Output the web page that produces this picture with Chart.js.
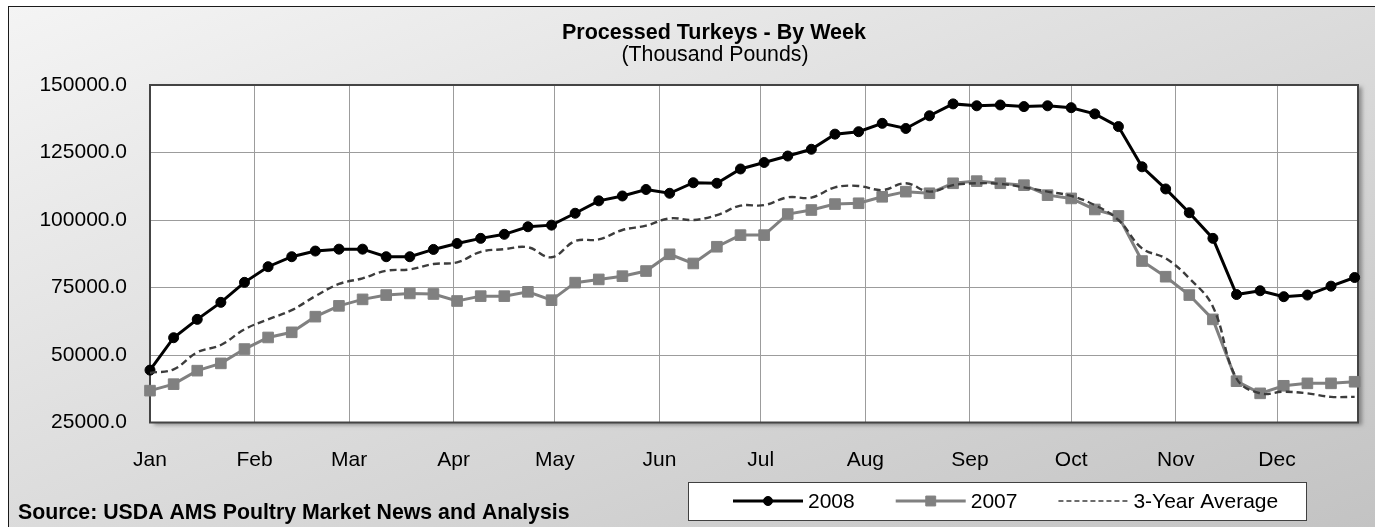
<!DOCTYPE html>
<html>
<head>
<meta charset="utf-8">
<title>Processed Turkeys - By Week</title>
<script src="https://cdn.jsdelivr.net/npm/chart.js"></script>
<style>
  html, body { margin: 0; padding: 0; background: #fff; }
  #turkeyChart { display: block; }
</style>
</head>
<body>
<canvas id="turkeyChart" width="1375" height="527"></canvas>
<script>
// month gridlines sit on the first day of each month (day of year)
const monthStartDays = [0, 31, 59, 90, 120, 151, 181, 212, 243, 273, 304, 334];
const monthLabels = ['Jan', 'Feb', 'Mar', 'Apr', 'May', 'Jun', 'Jul', 'Aug', 'Sep', 'Oct', 'Nov', 'Dec'];
const yTickValues = [25000, 50000, 75000, 100000, 125000, 150000];

// weekly processed turkeys, thousand pounds
const turkeys2008 = [
  44400, 56400, 63200, 69500, 76900, 82700, 86400, 88500, 89200, 89200,
  86400, 86400, 89100, 91300, 93200, 94700, 97500, 98100, 102500, 107100,
  108900, 111300, 109900, 113800, 113600, 118900, 121300, 123700, 126200, 131800,
  132700, 135800, 133900, 138600, 143000, 142300, 142600, 142000, 142300, 141600,
  139300, 134600, 119700, 111500, 102700, 93200, 72400, 73800, 71600, 72200,
  75500, 78700
];
const turkeys2007 = [
  36800, 39200, 44200, 46900, 52200, 56500, 58400, 64200, 68200, 70600,
  72200, 72800, 72600, 70000, 71800, 71800, 73400, 70300, 76800, 78000,
  79200, 81100, 87300, 83900, 90100, 94400, 94400, 102200, 103700, 105900,
  106200, 108600, 110500, 109900, 113600, 114400, 113600, 112900, 109200, 108000,
  103900, 101500, 84800, 79000, 72200, 63200, 40300, 35800, 38600, 39500,
  39500, 40100
];
const threeYearAvg = [
  43400, 44700, 51000, 53700, 59500, 63200, 66600, 71800, 76300, 78400,
  81200, 81700, 83700, 84300, 88200, 89200, 89900, 86200, 92200, 92800,
  96300, 97900, 100600, 100000, 101800, 105300, 105500, 108400, 108300, 112100,
  112600, 111100, 113600, 110500, 112900, 113600, 113400, 112100, 110500, 108900,
  105500, 100000, 89500, 85800, 78400, 67900, 41300, 35800, 36400, 35800,
  34500, 34500
];

const chartTitle = 'Processed Turkeys - By Week';
const chartSubtitle = '(Thousand Pounds)';
const sourceNote = 'Source: USDA AMS Poultry Market News and Analysis';

// one point per week, x is day of year
const weekDays = turkeys2008.map((_, i) => i * 7);
const toPoints = (values) => values.map((v, i) => ({ x: weekDays[i], y: v }));

const FONT = "'Liberation Sans', Arial, sans-serif";
Chart.defaults.font.family = FONT;
Chart.defaults.font.size = 21;
Chart.defaults.color = '#000';

// legend sample styles (Excel draws the dashed sample thinner)
const legendStyles = [
  { lineWidth: 3, dash: [], radius: 4.5 },
  { lineWidth: 3, dash: [], radius: 7 },
  { lineWidth: 1.5, dash: [5, 3], radius: 0 }
];

const framePlugin = {
  id: 'frame',
  beforeDraw(chart) {
    const { ctx, width, height, chartArea: a } = chart;
    ctx.save();
    ctx.fillStyle = '#fff';
    ctx.fillRect(0, 0, width, height);

    // diagonal gradient: top-left light, bottom-right dark
    const x0 = 8, y0 = 6, w = width - x0, h = height - y0;
    const k = 2 / (1 / (w * w) + 1 / (h * h));
    const g = ctx.createLinearGradient(x0, y0, x0 + k / w, y0 + k / h);
    g.addColorStop(0, '#f4f4f4');
    g.addColorStop(1, '#c3c3c3');
    ctx.fillStyle = g;
    ctx.fillRect(x0, y0, w, h);
    ctx.strokeStyle = '#1a1a1a';
    ctx.lineWidth = 1;
    ctx.strokeRect(x0 + 0.5, y0 + 0.5, w + 10, h + 10);

    // plot area with a soft shadow on the right
    ctx.shadowColor = 'rgba(0,0,0,0.35)';
    ctx.shadowBlur = 4;
    ctx.shadowOffsetX = 4;
    ctx.shadowOffsetY = 2;
    ctx.fillStyle = '#fff';
    ctx.fillRect(a.left, a.top, a.right - a.left, a.bottom - a.top);
    ctx.restore();
  },
  beforeDatasetsDraw(chart) {
    const { ctx, chartArea: a } = chart;
    ctx.save();
    ctx.strokeStyle = '#444';
    ctx.lineWidth = 2;
    ctx.strokeRect(a.left, a.top, a.right - a.left, a.bottom - a.top);
    ctx.restore();
  },
  afterDraw(chart) {
    const { ctx } = chart;
    ctx.save();
    ctx.fillStyle = '#000';
    ctx.textBaseline = 'alphabetic';

    // title block, centred on the original (wider) chart frame
    ctx.textAlign = 'center';
    ctx.font = 'bold 21.5px ' + FONT;
    ctx.fillText(chartTitle, 714, 39);
    ctx.font = '21.3px ' + FONT;
    ctx.fillText(chartSubtitle, 715, 61);

    // source note
    ctx.textAlign = 'left';
    ctx.font = 'bold 21.3px ' + FONT;
    ctx.fillText(sourceNote, 18, 519);

    // legend box
    const box = { left: 688, top: 482, right: 1306, bottom: 520 };
    ctx.fillStyle = '#fff';
    ctx.fillRect(box.left, box.top, box.right - box.left, box.bottom - box.top);
    ctx.strokeStyle = '#404040';
    ctx.lineWidth = 1;
    ctx.strokeRect(box.left + 0.5, box.top + 0.5, box.right - box.left, box.bottom - box.top);

    ctx.font = '21px ' + FONT;
    const cy = 501;
    let x = box.left + 45;
    chart.data.datasets.forEach((ds, i) => {
      const st = legendStyles[i];
      ctx.save();
      ctx.strokeStyle = ds.borderColor;
      ctx.lineWidth = st.lineWidth;
      ctx.setLineDash(st.dash);
      ctx.beginPath();
      ctx.moveTo(x, cy);
      ctx.lineTo(x + 70, cy);
      ctx.stroke();
      ctx.setLineDash([]);
      if (st.radius > 0) {
        ctx.fillStyle = ds.pointBackgroundColor;
        ctx.strokeStyle = ds.pointBorderColor;
        ctx.lineWidth = 1;
        Chart.helpers.drawPoint(ctx, { pointStyle: ds.pointStyle, radius: st.radius, rotation: 0, borderWidth: 1 }, x + 35, cy);
      }
      ctx.restore();
      ctx.fillStyle = '#000';
      ctx.fillText(ds.label, x + 75, 508);
      x += 75 + ctx.measureText(ds.label).width + 41;
    });
    ctx.restore();
  }
};

new Chart(document.getElementById('turkeyChart'), {
  type: 'line',
  data: {
    datasets: [
      {
        label: '2008',
        data: toPoints(turkeys2008),
        borderColor: '#000',
        borderWidth: 3,
        pointStyle: 'circle',
        pointRadius: 5,
        pointBorderWidth: 1,
        pointBackgroundColor: '#000',
        pointBorderColor: '#000',
        tension: 0,
        clip: false,
        order: 1
      },
      {
        label: '2007',
        data: toPoints(turkeys2007),
        borderColor: '#808080',
        borderWidth: 3,
        pointStyle: 'rect',
        pointRadius: 7.5,
        pointBorderWidth: 1,
        pointBackgroundColor: '#808080',
        pointBorderColor: '#808080',
        tension: 0,
        clip: false,
        order: 2
      },
      {
        label: '3-Year Average',
        data: toPoints(threeYearAvg),
        borderColor: '#3c3c3c',
        borderWidth: 2.4,
        borderDash: [7, 4],
        pointRadius: 0,
        tension: 0.4,
        clip: false,
        order: 0
      }
    ]
  },
  options: {
    responsive: false,
    animation: false,
    events: [],
    layout: { padding: { left: 0, right: 17, top: 85, bottom: 54.5 } },
    plugins: {
      legend: { display: false },
      tooltip: { enabled: false },
      title: { display: false },
      subtitle: { display: false }
    },
    scales: {
      x: {
        type: 'linear',
        min: 0,
        max: 358,
        afterBuildTicks: (s) => { s.ticks = monthStartDays.map(v => ({ value: v })); },
        afterFit: (s) => { s.height = 50; },
        grid: { color: '#9c9c9c', lineWidth: 1, drawTicks: false },
        border: { display: false },
        ticks: {
          autoSkip: false,
          maxRotation: 0,
          padding: 25,
          color: '#000',
          callback: (v, i) => monthLabels[i]
        }
      },
      y: {
        min: 25000,
        max: 150000,
        afterBuildTicks: (s) => { s.ticks = yTickValues.map(v => ({ value: v })); },
        afterFit: (s) => { s.width = 150; },
        grid: { color: '#9c9c9c', lineWidth: 1, drawTicks: false },
        border: { display: false },
        ticks: {
          padding: 23,
          color: '#000',
          callback: (v) => Number(v).toFixed(1)
        }
      }
    }
  },
  plugins: [framePlugin]
});
</script>
</body>
</html>
